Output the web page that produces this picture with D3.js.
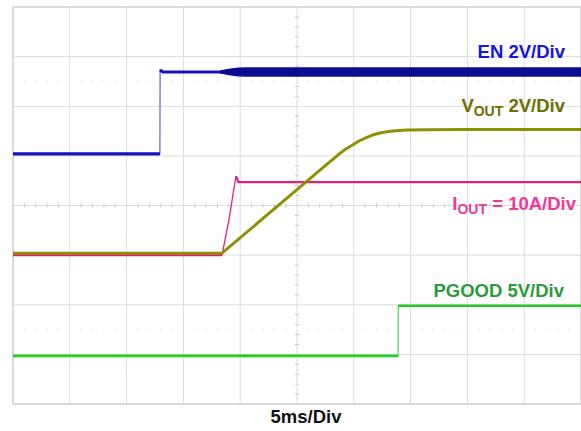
<!DOCTYPE html>
<html><head><meta charset="utf-8">
<script src="https://cdn.jsdelivr.net/npm/d3@7"></script>
<style>html,body{margin:0;padding:0;background:#fff;}svg{display:block;}</style>
</head><body>
<svg id="c" width="581" height="431"></svg>
<script>
// ---- data (time in ms, values in channel units) ----
const enT   = [0, 12.93, 12.95, 13.2, 18.4, 50];
const enV   = [0, 0, 3.38, 3.3, 3.3, 3.3];
// EN switching-noise envelope (half amplitude, V)
const enNoiseT   = [18.3, 19.0, 19.8, 20.5, 50];
const enNoiseAmp = [0.04, 0.10, 0.15, 0.16, 0.16];
const voutT = [0, 18.4, 25.26, 27.02, 28.78, 29.3, 29.93, 30.5, 31.16, 31.7, 32.31, 32.9, 33.45, 34.0, 34.68, 36.5, 39.35, 50];
const voutV = [0, 0, 2.66, 3.35, 4.02, 4.2, 4.37, 4.53, 4.67, 4.77, 4.84, 4.89, 4.92, 4.94, 4.96, 4.97, 4.98, 4.98];
const ioutT = [0, 18.4, 19.0, 19.63, 19.85, 50];
const ioutV = [0, 0, 7.0, 15.9, 14.7, 14.7];
const pgT   = [0, 33.9, 33.92, 50];
const pgV   = [0, 0, 5.05, 5.05];
const xLabel = "5ms/Div";

// channel settings: units per div, ground offset in divs
const chEN = {perDiv: 2, off: 1.04};
const chVO = {perDiv: 2, off: -0.96};
const chIO = {perDiv: 10, off: -1.0};
const chPG = {perDiv: 5, off: -3.03};

const svg = d3.select("#c");
const L = 13, R = 581, T = 7, B = 404;
const x = d3.scaleLinear().domain([0, 50]).range([L, R]);
const y = d3.scaleLinear().domain([-4, 4]).range([B, T]);

// grid
const g = svg.append("g");
const divX = d3.range(0, 11).map(i => i * 5);
const divY = d3.range(-4, 5);
g.selectAll("line.vx").data(divX).join("line")
  .attr("x1", d => x(d)).attr("x2", d => x(d)).attr("y1", T).attr("y2", B)
  .attr("stroke", "#dcdcdc").attr("stroke-width", 1);
g.selectAll("line.hy").data(divY).join("line")
  .attr("x1", L).attr("x2", R).attr("y1", d => y(d)).attr("y2", d => y(d))
  .attr("stroke", "#dcdcdc").attr("stroke-width", 1);
g.append("rect").attr("x", L).attr("y", T).attr("width", R - L).attr("height", B - T)
  .attr("fill", "none").attr("stroke", "#cfcfcf").attr("stroke-width", 1.2);
const minorX = d3.range(0, 50.01, 1);
g.selectAll("line.tx").data(minorX.filter(d => d % 5 !== 0)).join("line")
  .attr("x1", d => x(d)).attr("x2", d => x(d)).attr("y1", y(0) - 2).attr("y2", y(0) + 2)
  .attr("stroke", "#c8c8c8");
const minorY = d3.range(-4, 4.01, 0.2).filter(d => Math.abs(d - Math.round(d)) > 0.01);
g.selectAll("line.ty").data(minorY).join("line")
  .attr("x1", x(25) - 2).attr("x2", x(25) + 2).attr("y1", d => y(d)).attr("y2", d => y(d))
  .attr("stroke", "#c8c8c8");
[2.5, -2.5].forEach(lv => {
  g.selectAll(null).data(minorX.filter(d => d % 5 !== 0)).join("rect")
    .attr("x", d => x(d) - 0.5).attr("y", y(lv) - 0.5).attr("width", 1).attr("height", 1)
    .attr("fill", "#c8c8c8");
});

function pts(ts, vs, ch) { return ts.map((t, i) => [t, vs[i] / ch.perDiv + ch.off]); }
const line = d3.line().x(d => x(d[0])).y(d => y(d[1]));

// edge (thin) then flat parts (thick)
function trace(P, split, edgeColor, color, w) {
  svg.append("path").attr("d", line(P)).attr("fill", "none")
    .attr("stroke", edgeColor).attr("stroke-width", 1.3);
  svg.append("path").attr("d", line(P.slice(0, split))).attr("fill", "none")
    .attr("stroke", color).attr("stroke-width", w);
  svg.append("path").attr("d", line(P.slice(split))).attr("fill", "none")
    .attr("stroke", color).attr("stroke-width", w);
}

trace(pts(pgT, pgV, chPG), 2, "#55dd55", "#22cc22", 2.6);
trace(pts(enT, enV, chEN), 2, "#6a6ae0", "#1414bb", 3.2);
// EN noise band
const enLevel = 3.3;
const band = d3.area().x(d => x(d[0]))
  .y0(d => y((enLevel - d[1]) / chEN.perDiv + chEN.off))
  .y1(d => y((enLevel + d[1]) / chEN.perDiv + chEN.off));
svg.append("path").attr("d", band(enNoiseT.map((t, i) => [t, enNoiseAmp[i]])))
  .attr("fill", "#0c0c92").attr("stroke", "#0c0c92").attr("stroke-width", 1.5);

// IOUT
const ioP = pts(ioutT, ioutV, chIO);
svg.append("path").attr("d", line(ioP.slice(0, 2))).attr("fill", "none")
  .attr("stroke", "#e2207e").attr("stroke-width", 2.2);
svg.append("path").attr("d", line(ioP.slice(1, 4))).attr("fill", "none")
  .attr("stroke", "#e2207e").attr("stroke-width", 1.3);
svg.append("path").attr("d", line(ioP.slice(3))).attr("fill", "none")
  .attr("stroke", "#e2207e").attr("stroke-width", 2.2);
// VOUT
svg.append("path").attr("d", line(pts(voutT, voutV, chVO)))
  .attr("fill", "none").attr("stroke", "#8f8f06").attr("stroke-width", 3)
  .attr("stroke-linejoin", "round");

// labels
const font = "Liberation Sans, Arial, sans-serif";
function lab(xr, yb, color, parts) {
  const t = svg.append("text").attr("x", xr).attr("y", yb).attr("text-anchor", "end")
    .attr("font-family", font).attr("font-weight", "bold").attr("font-size", 18.5).attr("fill", color);
  parts.forEach(p => {
    const s = t.append("tspan").text(p.t);
    if (p.sub) s.attr("font-size", 14).attr("dy", 4);
    if (p.up) s.attr("dy", -4);
  });
}
lab(565, 58, "#1414e6", [{t: "EN 2V/Div"}]);
lab(565, 112, "#6e6e00", [{t: "V"}, {t: "OUT", sub: true}, {t: " 2V/Div", up: true}]);
lab(576, 210, "#ee3a9a", [{t: "I"}, {t: "OUT", sub: true}, {t: " = 10A/Div", up: true}]);
lab(564, 297, "#2a9a3a", [{t: "PGOOD 5V/Div"}]);

svg.append("text").attr("x", 306).attr("y", 423).attr("text-anchor", "middle")
  .attr("font-family", font).attr("font-weight", "bold").attr("font-size", 18.5).attr("fill", "#111")
  .text(xLabel);
</script>
</body></html>
